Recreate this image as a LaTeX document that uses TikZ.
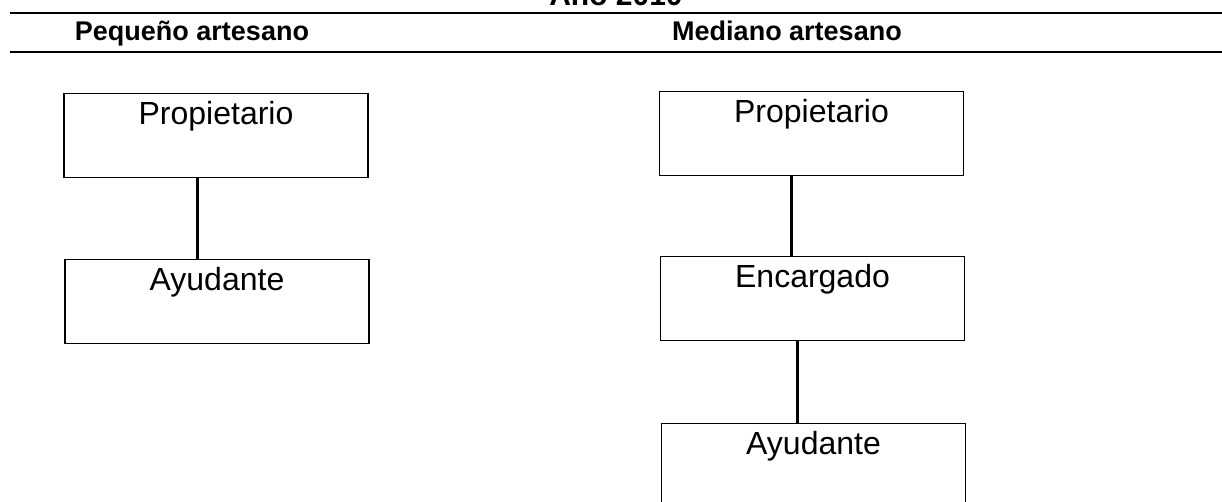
\documentclass[tikz,border=0pt]{standalone}
\usepackage{fontspec}
\setmainfont{Liberation Sans}
\begin{document}
\begin{tikzpicture}[x=1pt,y=-1pt,
  box/.style={draw, line width=1.1pt, rectangle, minimum width=304pt, inner sep=0pt,
    text height=31pt, text depth=53pt, anchor=north, font=\fontsize{32}{36}\selectfont},
  conn/.style={line width=3pt},
  hrule/.style={line width=2pt},
  head/.style={anchor=base, inner sep=0pt, font=\bfseries\fontsize{27}{30}\selectfont}]
\useasboundingbox (0,0) rectangle (1222,501);
\clip (0,0) rectangle (1222,501);
% title (cut by the top edge, as in the reference)
\node[head, font=\bfseries\fontsize{30}{34}\selectfont] (title) at (616,5) {Año 2010};
% rules
\draw[hrule] (10,13) -- (1222,13);
\draw[hrule] (10,52) -- (1222,52);
% column heads
\node[head] (hl) at (192,40) {Pequeño artesano};
\node[head] (hr) at (787,40) {Mediano artesano};
% left column
\node[box] (lp) at (216,93) {Propietario};
\node[box] (la) at (217,259) {Ayudante};
% right column
\node[box] (rp) at (811.5,91) {Propietario};
\node[box] (re) at (812.5,256) {Encargado};
\node[box] (ra) at (813.5,423) {Ayudante};
% connectors
\coordinate (lx) at (197,0);
\coordinate (rx1) at (791,0);
\coordinate (rx2) at (797,0);
\draw[conn] (lx |- lp.south) -- (lx |- la.north);
\draw[conn] (rx1 |- rp.south) -- (rx1 |- re.north);
\draw[conn] (rx2 |- re.south) -- (rx2 |- ra.north);
\end{tikzpicture}
\end{document}
